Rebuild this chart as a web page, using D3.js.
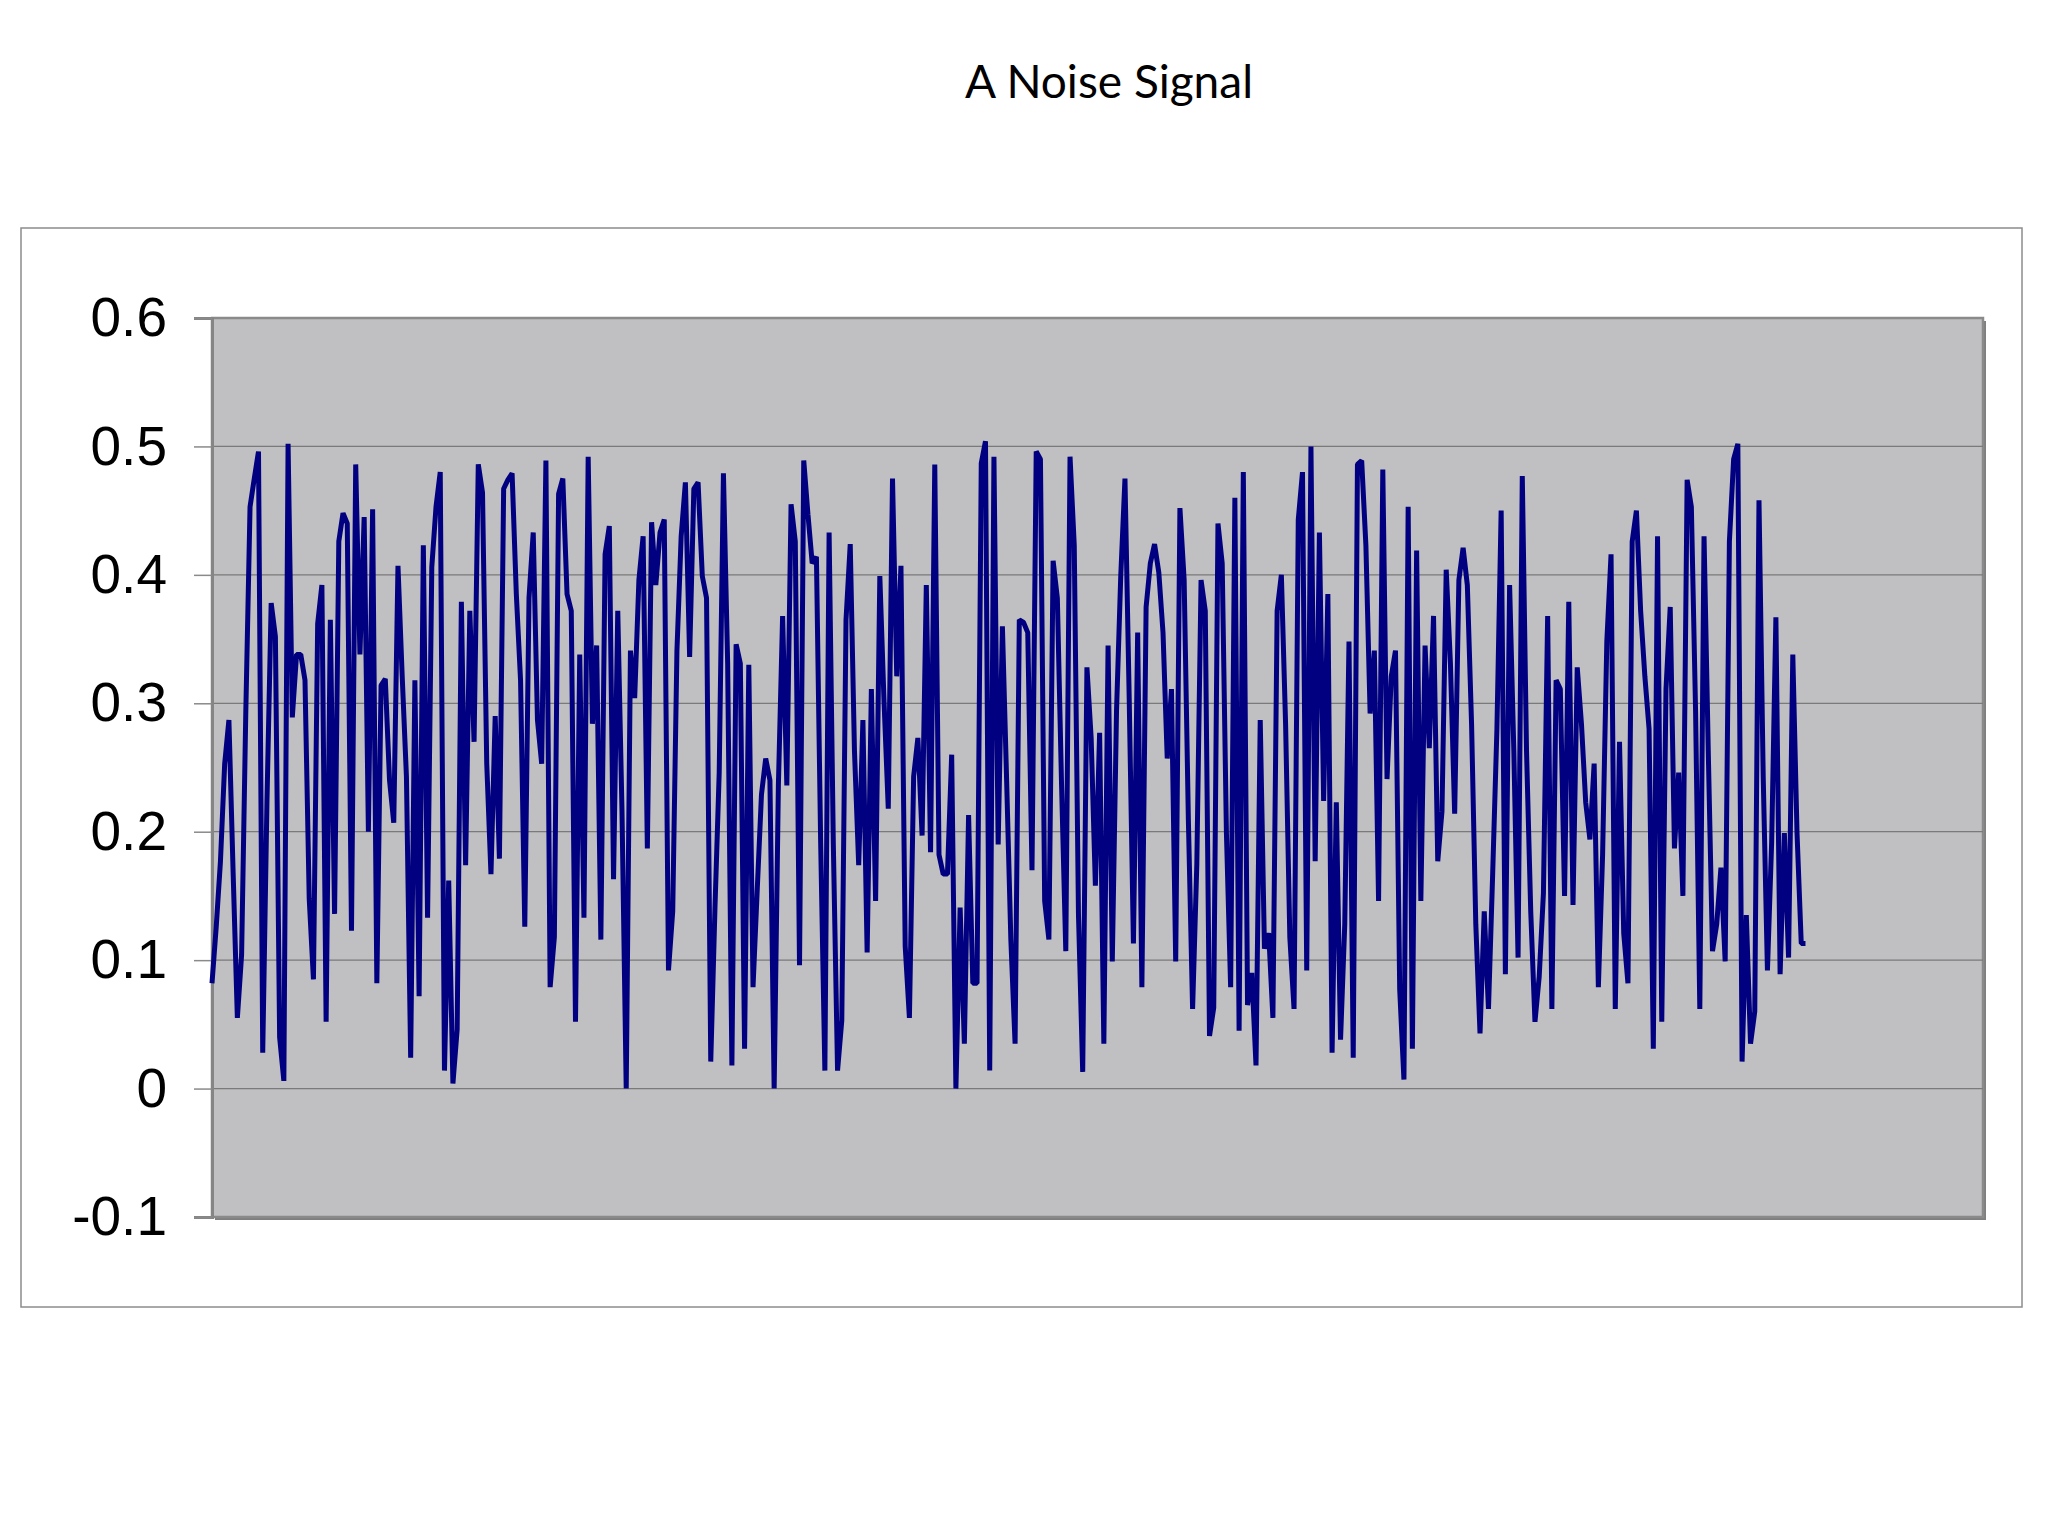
<!DOCTYPE html>
<html>
<head>
<meta charset="utf-8">
<script src="https://cdn.jsdelivr.net/npm/d3@7"></script>
<style>
  html, body { margin: 0; padding: 0; background: #ffffff; }
  svg { display: block; }
</style>
</head>
<body>
<script>
// ---- data ----
const chartTitle = "A Noise Signal";
const yTickValues = [-0.1, 0, 0.1, 0.2, 0.3, 0.4, 0.5, 0.6];
const yTickLabels = ["-0.1", "0", "0.1", "0.2", "0.3", "0.4", "0.5", "0.6"];
const gridValues = [0, 0.1, 0.2, 0.3, 0.4, 0.5];
const categoryCount = 420; // category slots on the horizontal axis

const signalPart1 = [0.082, 0.126, 0.177, 0.253, 0.287, 0.168, 0.055, 0.104, 0.294, 0.453,
  0.475, 0.496, 0.028, 0.223, 0.378, 0.352, 0.04, 0.006, 0.502, 0.289,
  0.338, 0.338, 0.318, 0.148, 0.085, 0.362, 0.392, 0.052, 0.365, 0.136,
  0.426, 0.448, 0.44, 0.123, 0.486, 0.338, 0.445, 0.2, 0.451, 0.082,
  0.314, 0.319, 0.24, 0.207, 0.407, 0.321, 0.243, 0.024, 0.318];
const signalPart2 = [0.072, 0.423, 0.133, 0.406, 0.453, 0.48, 0.014, 0.162, 0.004, 0.046,
  0.379, 0.174, 0.372, 0.27, 0.486, 0.464, 0.253, 0.167, 0.29, 0.179,
  0.467, 0.474, 0.479, 0.385, 0.318, 0.126, 0.382, 0.433, 0.287, 0.253,
  0.489, 0.079, 0.118, 0.463, 0.475, 0.385, 0.372, 0.052, 0.338, 0.133,
  0.492, 0.284, 0.345, 0.116, 0.416, 0.438, 0.163];
const signalPart3 = [0.372, 0.216, 0.0, 0.341, 0.304, 0.396, 0.43, 0.187, 0.441, 0.392,
  0.433, 0.443, 0.092, 0.138, 0.341, 0.43, 0.472, 0.336, 0.467, 0.472,
  0.399, 0.382, 0.021, 0.141, 0.246, 0.479, 0.331, 0.018, 0.346, 0.331,
  0.031, 0.33, 0.079, 0.155, 0.229, 0.257, 0.24, 0.0, 0.236, 0.368,
  0.236, 0.455, 0.426, 0.096, 0.489, 0.447];
const signalPart4 = [0.409, 0.414, 0.192, 0.014, 0.433, 0.19, 0.014, 0.053, 0.365, 0.424,
  0.263, 0.174, 0.287, 0.106, 0.311, 0.146, 0.399, 0.301, 0.218, 0.475,
  0.321, 0.407, 0.111, 0.055, 0.243, 0.273, 0.197, 0.392, 0.184, 0.486,
  0.182, 0.167, 0.167, 0.26, 0.0, 0.141, 0.035, 0.213, 0.082, 0.082,
  0.487, 0.504, 0.014, 0.492, 0.19, 0.36, 0.24, 0.116, 0.035, 0.365];
const signalPart5 = [0.363, 0.355, 0.17, 0.496, 0.49, 0.146, 0.116, 0.411, 0.382, 0.236,
  0.107, 0.492, 0.423, 0.135, 0.013, 0.328, 0.273, 0.158, 0.277, 0.035,
  0.345, 0.099, 0.294, 0.399, 0.475, 0.304, 0.113, 0.355, 0.079, 0.375,
  0.409, 0.424, 0.402, 0.355, 0.257, 0.311, 0.099, 0.452, 0.396, 0.209,
  0.062, 0.175, 0.396, 0.372, 0.041, 0.063, 0.44];
const signalPart6 = [0.409, 0.199, 0.079, 0.46, 0.045, 0.48, 0.065, 0.09, 0.018, 0.287,
  0.109, 0.121, 0.055, 0.372, 0.4, 0.284, 0.118, 0.062, 0.443, 0.48,
  0.092, 0.5, 0.177, 0.433, 0.224, 0.385, 0.028, 0.223, 0.038, 0.128,
  0.348, 0.024, 0.486, 0.489, 0.423, 0.292, 0.341, 0.146, 0.482, 0.241,
  0.321, 0.341, 0.077, 0.007, 0.453, 0.031];
const signalPart7 = [0.419, 0.146, 0.345, 0.265, 0.368, 0.177, 0.216, 0.404, 0.331, 0.214,
  0.396, 0.421, 0.392, 0.284, 0.128, 0.043, 0.138, 0.062, 0.168, 0.28,
  0.45, 0.089, 0.392, 0.263, 0.102, 0.477, 0.263, 0.138, 0.052, 0.087,
  0.152, 0.368, 0.062, 0.318, 0.311, 0.15, 0.379, 0.143, 0.328, 0.284,
  0.223, 0.194, 0.253, 0.079, 0.182, 0.348, 0.416];
const signalPart8 = [0.062, 0.27, 0.121, 0.082, 0.426, 0.45, 0.372, 0.321, 0.28, 0.031,
  0.43, 0.052, 0.311, 0.375, 0.187, 0.246, 0.15, 0.474, 0.453, 0.294,
  0.062, 0.43, 0.263, 0.107, 0.128, 0.172, 0.099, 0.426, 0.49, 0.502,
  0.021, 0.135, 0.035, 0.06, 0.458, 0.243, 0.092, 0.192, 0.367, 0.089,
  0.199, 0.102, 0.338, 0.199, 0.113, 0.113];

const signal = [].concat(signalPart1, signalPart2, signalPart3, signalPart4,
  signalPart5, signalPart6, signalPart7, signalPart8);

// ---- layout ----
const W = 2048, H = 1536;
const frame = { left: 21, top: 228, right: 2022, bottom: 1307 };
const plot = { left: 212, top: 318, right: 1983, bottom: 1217 };

const svg = d3.select("body").append("svg")
  .attr("width", W).attr("height", H)
  .attr("viewBox", `0 0 ${W} ${H}`);

svg.append("rect").attr("width", W).attr("height", H).attr("fill", "#ffffff");

// title
svg.append("text")
  .attr("x", 1109).attr("y", 80)
  .attr("text-anchor", "middle")
  .attr("dominant-baseline", "central")
  .attr("font-family", "Lato, 'Open Sans', sans-serif")
  .attr("font-size", 46)
  .attr("fill", "#000")
  .text(chartTitle);

// outer chart frame
svg.append("rect")
  .attr("x", frame.left).attr("y", frame.top)
  .attr("width", frame.right - frame.left).attr("height", frame.bottom - frame.top)
  .attr("fill", "#ffffff").attr("stroke", "#8c8c8c").attr("stroke-width", 1.5);

const x = d3.scaleLinear().domain([0, categoryCount - 1]).range([plot.left, plot.right]);
const y = d3.scaleLinear().domain([-0.1, 0.6]).range([plot.bottom, plot.top]);

// plot area with shadow
svg.append("rect")
  .attr("x", plot.left + 3).attr("y", plot.top + 3)
  .attr("width", plot.right - plot.left).attr("height", plot.bottom - plot.top)
  .attr("fill", "#7f7f7f");
svg.append("rect")
  .attr("x", plot.left).attr("y", plot.top)
  .attr("width", plot.right - plot.left).attr("height", plot.bottom - plot.top)
  .attr("fill", "#c0bfc1").attr("stroke", "#8a8a8a").attr("stroke-width", 2.5);

// gridlines
svg.append("g").selectAll("line").data(gridValues).join("line")
  .attr("x1", plot.left).attr("x2", plot.right)
  .attr("y1", d => y(d)).attr("y2", d => y(d))
  .attr("stroke", "#7a7a7a").attr("stroke-width", 1.2);

// y axis
const yAxis = d3.axisLeft(y)
  .tickValues(yTickValues)
  .tickFormat((d, i) => yTickLabels[i])
  .tickSize(18)
  .tickPadding(27);
const gAxis = svg.append("g")
  .attr("transform", `translate(${plot.left},0)`)
  .call(yAxis);
gAxis.select(".domain").attr("stroke", "#858585").attr("stroke-width", 3);
gAxis.selectAll(".tick line").attr("stroke", "#8a8a8a").attr("stroke-width", 1.5);
gAxis.selectAll(".tick text")
  .attr("font-family", "'Liberation Sans', Arial, sans-serif")
  .attr("font-size", 55)
  .attr("fill", "#000");

// the signal
const line = d3.line()
  .x((d, i) => x(i))
  .y(d => y(d));

svg.append("path")
  .datum(signal)
  .attr("d", line)
  .attr("fill", "none")
  .attr("stroke", "#000080")
  .attr("stroke-width", 5)
  .attr("stroke-linejoin", "bevel");
</script>
</body>
</html>
